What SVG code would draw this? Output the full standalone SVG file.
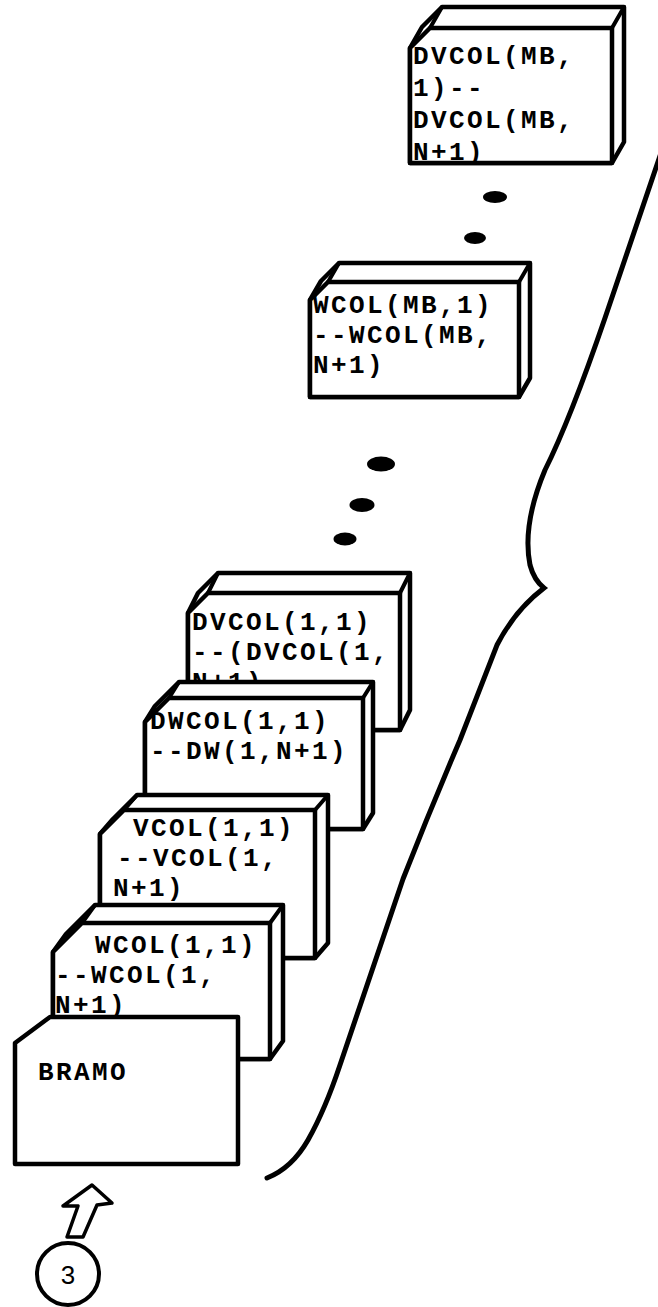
<svg xmlns="http://www.w3.org/2000/svg" width="658" height="1307" viewBox="0 0 658 1307">
<style>
.sil{fill:#fff;stroke:#000;stroke-width:4.5;stroke-linejoin:round}
.fr{fill:#fff;stroke:#000;stroke-width:4.5;stroke-linejoin:round}
.ln{stroke:#000;stroke-width:4;stroke-linecap:round}
.t{font-family:"Liberation Mono","Courier New",monospace;font-size:26px;letter-spacing:2.4px;font-weight:bold;fill:#000}
.dot{fill:#000}
.brace{fill:none;stroke:#000;stroke-width:5;stroke-linejoin:miter;stroke-linecap:round}
</style>
<rect width="658" height="1307" fill="#fff"/>
<g id="deck-dvcol-mb">
<polygon class="sil" points="442,7 624,7 624,142 612,163 410,163 410,48 422,27"/>
<polygon class="fr" points="430,28 612,28 612,163 410,163 410,48"/>
<line class="ln" x1="612" y1="28" x2="624" y2="7"/><line class="ln" x1="430" y1="28" x2="442" y2="7"/>
<text class="t" x="413" y="64">DVCOL(MB,</text>
<text class="t" x="413" y="96">1)--</text>
<text class="t" x="413" y="128">DVCOL(MB,</text>
<text class="t" x="413" y="160">N+1)</text>
</g>
<g id="deck-wcol-mb">
<polygon class="sil" points="339,263 530,263 530,378 519,397 310,397 310,300 321,281"/>
<polygon class="fr" points="328,282 519,282 519,397 310,397 310,300"/>
<line class="ln" x1="519" y1="282" x2="530" y2="263"/><line class="ln" x1="328" y1="282" x2="339" y2="263"/>
<text class="t" x="313" y="313">WCOL(MB,1)</text>
<text class="t" x="313" y="343">--WCOL(MB,</text>
<text class="t" x="313" y="373">N+1)</text>
</g>
<g id="ellipsis-dots">
<ellipse class="dot" cx="495" cy="197" rx="12" ry="6"/>
<ellipse class="dot" cx="475" cy="238" rx="11" ry="6"/>
<ellipse class="dot" cx="381" cy="464" rx="14" ry="7.5"/>
<ellipse class="dot" cx="362" cy="505" rx="12.5" ry="7"/>
<ellipse class="dot" cx="345" cy="539" rx="11.5" ry="6.5"/>
</g>
<g id="connectors">
<path class="brace" d="M 662,150 L 605,318 Q 570,420 545,470 Q 522,525 530,565 Q 534,580 544,588 Q 515,610 497,645 L 460,740 Q 430,810 403,879 L 340,1065 Q 325,1110 308,1140 Q 292,1168 267,1178"/>
</g>
<g id="deck-dvcol-1">
<polygon class="sil" points="218,573 410,573 410,710 400,730 188,730 188,613 198,593"/>
<polygon class="fr" points="208,593 400,593 400,730 188,730 188,613"/>
<line class="ln" x1="400" y1="593" x2="410" y2="573"/><line class="ln" x1="208" y1="593" x2="218" y2="573"/>
<text class="t" x="192" y="630">DVCOL(1,1)</text>
<text class="t" x="192" y="660">--(DVCOL(1,</text>
<text class="t" x="192" y="690">N+1)</text>
</g>
<g id="deck-dwcol-1">
<polygon class="sil" points="179,682 373,682 373,813 363,829 145,829 145,722 155,706"/>
<polygon class="fr" points="169,698 363,698 363,829 145,829 145,722"/>
<line class="ln" x1="363" y1="698" x2="373" y2="682"/><line class="ln" x1="169" y1="698" x2="179" y2="682"/>
<text class="t" x="150" y="729">DWCOL(1,1)</text>
<text class="t" x="150" y="759">--DW(1,N+1)</text>
</g>
<g id="deck-vcol-1">
<polygon class="sil" points="137,795 328,795 328,943 315,958 100,958 100,834 113,819"/>
<polygon class="fr" points="124,810 315,810 315,958 100,958 100,834"/>
<line class="ln" x1="315" y1="810" x2="328" y2="795"/><line class="ln" x1="124" y1="810" x2="137" y2="795"/>
<text class="t" x="133" y="836">VCOL(1,1)</text>
<text class="t" x="117" y="866">--VCOL(1,</text>
<text class="t" x="113" y="896">N+1)</text>
</g>
<g id="deck-wcol-1">
<polygon class="sil" points="95,905 283,905 283,1041 270,1059 53,1059 53,952 66,934"/>
<polygon class="fr" points="82,923 270,923 270,1059 53,1059 53,952"/>
<line class="ln" x1="270" y1="923" x2="283" y2="905"/><line class="ln" x1="82" y1="923" x2="95" y2="905"/>
<text class="t" x="95" y="953">WCOL(1,1)</text>
<text class="t" x="55" y="983">--WCOL(1,</text>
<text class="t" x="55" y="1013">N+1)</text>
</g>
<g id="card-bramo">
<polygon class="fr" points="50,1017 238,1017 238,1164 15,1164 15,1043"/>
<text class="t" x="38" y="1080">BRAMO</text>
</g>
<g id="entry-arrow">
<polygon points="67,1237 78,1206 63,1206 92,1185 112,1203 97,1205 83,1237" fill="#fff" stroke="#000" stroke-width="3.5" stroke-linejoin="round"/>
</g>
<g id="connector-3">
<circle cx="68" cy="1274" r="31" fill="#fff" stroke="#000" stroke-width="4"/>
<text x="68" y="1284" text-anchor="middle" font-family="Liberation Sans, Arial, sans-serif" font-size="26" fill="#000">3</text>
</g>
</svg>
